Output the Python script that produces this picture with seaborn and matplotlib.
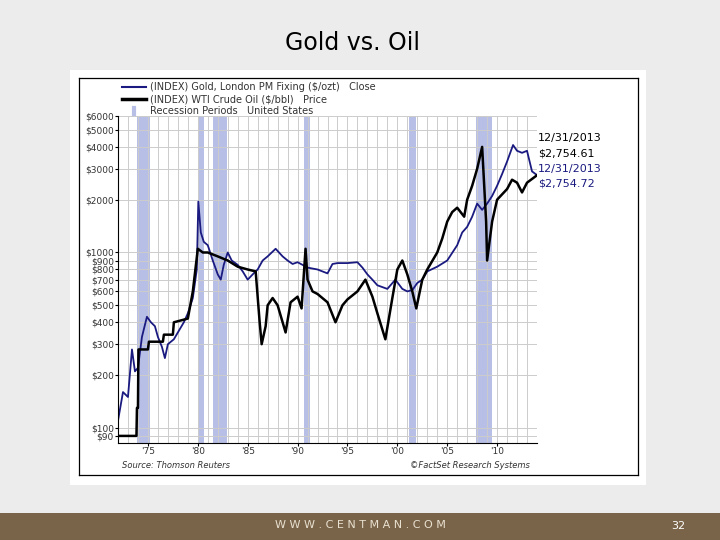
import numpy as np
import pandas as pd
import matplotlib
matplotlib.use('Agg')
import matplotlib.pyplot as plt
import matplotlib.ticker as mticker
import seaborn as sns

# Gold, London PM fixing (rebased)
gold_t = [1972.0, 1972.5, 1973.0, 1973.4, 1973.7, 1974.0, 1974.4, 1974.9, 1975.3, 1975.7,
          1976.0, 1976.4, 1976.7, 1977.0, 1977.6, 1978.0, 1978.6, 1979.0, 1979.5, 1979.9,
          1980.05, 1980.3, 1980.6, 1981.0, 1981.5, 1982.0, 1982.3, 1982.6, 1983.0, 1983.4,
          1984.0, 1984.5, 1985.0, 1985.5, 1986.0, 1986.5, 1987.0, 1987.8, 1988.5, 1989.0,
          1989.5, 1990.0, 1990.5, 1991.0, 1992.0, 1993.0, 1993.5, 1994.0, 1995.0, 1996.0,
          1996.5, 1997.0, 1997.5, 1998.0, 1999.0, 1999.8, 2000.5, 2001.0, 2001.5, 2002.0,
          2002.5, 2003.0, 2004.0, 2005.0, 2006.0, 2006.5, 2007.0, 2007.5, 2008.0, 2008.5,
          2009.0, 2009.5, 2010.0, 2010.5, 2011.0, 2011.6, 2012.0, 2012.5, 2013.0, 2013.5, 2013.99]
gold_v = [110, 160, 150, 280, 210, 220, 330, 430, 400, 380,
          330, 290, 250, 300, 320, 350, 400, 450, 550, 800,
          1950, 1300, 1150, 1100, 900, 750, 700, 850, 1000, 900,
          850, 780, 700, 750, 800, 900, 950, 1050, 950, 900,
          860, 880, 850, 820, 800, 760, 860, 870, 870, 880,
          820, 750, 700, 650, 620, 700, 620, 600, 610, 670,
          700, 780, 830, 900, 1100, 1300, 1400, 1600, 1900, 1750,
          1900, 2100, 2400, 2800, 3300, 4100, 3800, 3700, 3800, 2900, 2764]

# WTI crude oil (rebased); early years were posted prices, hence the steps
oil_t = [1972.0, 1973.85, 1973.9, 1974.0, 1974.05, 1975.0, 1975.1, 1976.5, 1976.6, 1977.5,
         1977.6, 1979.0, 1979.5, 1980.0, 1980.5, 1981.0, 1982.0, 1983.0, 1984.0, 1985.0,
         1985.8, 1986.2, 1986.4, 1986.8, 1987.0, 1987.5, 1988.0, 1988.8, 1989.3, 1990.0,
         1990.4, 1990.8, 1991.0, 1991.5, 1992.0, 1993.0, 1993.8, 1994.5, 1995.0, 1996.0,
         1996.8, 1997.5, 1998.0, 1998.8, 1999.5, 2000.0, 2000.5, 2001.0, 2001.5, 2001.9,
         2002.5, 2003.0, 2004.0, 2004.5, 2005.0, 2005.5, 2006.0, 2006.7, 2007.0, 2007.5,
         2008.0, 2008.5, 2008.9, 2009.0, 2009.5, 2010.0, 2011.0, 2011.5, 2012.0, 2012.5,
         2013.0, 2013.99]
oil_v = [90, 90, 130, 130, 280, 280, 310, 310, 340, 340,
         400, 420, 600, 1050, 1000, 1000, 950, 900, 830, 800,
         780, 400, 300, 380, 500, 550, 500, 350, 520, 560,
         480, 1050, 700, 600, 580, 520, 400, 500, 540, 600,
         700, 560, 450, 320, 550, 800, 900, 750, 600, 480,
         700, 800, 1000, 1200, 1500, 1700, 1800, 1600, 2000, 2400,
         3000, 4000, 1500, 900, 1500, 2000, 2300, 2600, 2500, 2200,
         2500, 2754]

recessions = [(1973.9, 1975.2), (1980.0, 1980.6), (1981.5, 1982.9),
              (1990.6, 1991.2), (2001.2, 2001.9), (2007.9, 2009.5)]

y_ticks = [90, 100, 200, 300, 400, 500, 600, 700, 800, 900, 1000, 2000, 3000, 4000, 5000, 6000]
x_ticks = [1975, 1980, 1985, 1990, 1995, 2000, 2005, 2010]
x_labels = ["'75", "'80", "'85", "'90", "'95", "'00", "'05", "'10"]

gold = pd.DataFrame({'t': gold_t, 'v': gold_v})
oil = pd.DataFrame({'t': oil_t, 'v': oil_v})

fig = plt.figure(figsize=(7.2, 5.4), dpi=100)
fig.patch.set_facecolor('#ececec')

# white picture area with a thin black frame
pad = fig.add_axes([70/720, 1-485/540, 576/720, 415/540])
pad.set_facecolor('white')
pad.set_xticks([]); pad.set_yticks([])
for s in pad.spines.values():
    s.set_visible(False)
frame = fig.add_axes([79/720, 1-475/540, 559/720, 397/540])
frame.set_facecolor('white')
frame.set_xticks([]); frame.set_yticks([])
for s in frame.spines.values():
    s.set_linewidth(0.9)

ax = fig.add_axes([118/720, 1-443/540, 419/720, 327/540])
ax.set_yscale('log')
ax.set_xlim(1972.0, 2014.0)
ax.set_ylim(82, 6000)
for a, b in recessions:
    ax.axvspan(a, b, color='#b8bfe6', lw=0, zorder=0)
for yr in range(1973, 2015):
    ax.axvline(yr, color='#cccccc', lw=0.7, zorder=0.5)
for y in y_ticks:
    ax.axhline(y, color='#cccccc', lw=0.7, zorder=0.5)

sns.lineplot(data=oil, x='t', y='v', ax=ax, color='black', lw=1.8, zorder=3)
sns.lineplot(data=gold, x='t', y='v', ax=ax, color='#1a1a80', lw=1.3, zorder=2)

ax.yaxis.set_major_locator(mticker.FixedLocator(y_ticks))
ax.yaxis.set_minor_locator(mticker.NullLocator())
ax.set_yticklabels(['$%d' % y for y in y_ticks], fontsize=6.5, color='#333333')
ax.set_xticks(x_ticks)
ax.set_xticklabels(x_labels, fontsize=6.5, color='#333333')
ax.set_xlabel(''); ax.set_ylabel('')
ax.tick_params(length=2, pad=1)
ax.spines['top'].set_visible(False)
ax.spines['right'].set_visible(False)

# legend-like header
fig.text(150/720, 1-87/540, '(INDEX) Gold, London PM Fixing ($/ozt)   Close', fontsize=7, color='#333333', va='center')
fig.text(150/720, 1-99/540, '(INDEX) WTI Crude Oil ($/bbl)   Price', fontsize=7, color='#333333', va='center')
fig.text(150/720, 1-111/540, 'Recession Periods   United States', fontsize=7, color='#333333', va='center')
fig.add_artist(plt.Line2D([122/720, 146/720], [1-87/540]*2, color='#1a1a80', lw=1.5))
fig.add_artist(plt.Line2D([122/720, 146/720], [1-99/540]*2, color='black', lw=2.5))
fig.add_artist(plt.Line2D([134/720, 134/720], [1-108/540, 1-114/540], color='#b8bfe6', lw=3))

# end-value labels
fig.text(538/720, 1-138/540, '12/31/2013', fontsize=8, color='black', va='center')
fig.text(538/720, 1-153/540, '$2,754.61', fontsize=8, color='black', va='center')
fig.text(538/720, 1-169/540, '12/31/2013', fontsize=8, color='#1a1a80', va='center')
fig.text(538/720, 1-184/540, '$2,754.72', fontsize=8, color='#1a1a80', va='center')

fig.text(122/720, 1-466/540, 'Source: Thomson Reuters', fontsize=6, style='italic', color='#333333', va='center')
fig.text(530/720, 1-466/540, '©FactSet Research Systems', fontsize=6, style='italic', color='#333333', va='center', ha='right')

fig.text(0.49, 1-43/540, 'Gold vs. Oil', fontsize=17, ha='center', va='center', color='black')

# footer band
band = fig.add_axes([0, 0, 1, 27/540])
band.set_facecolor('#7a6449')
band.set_xticks([]); band.set_yticks([])
for s in band.spines.values():
    s.set_visible(False)
fig.text(360/720, 1-525/540, 'W W W . C E N T M A N . C O M', fontsize=8, color='#e8e0d0', ha='center', va='center')
fig.text(678/720, 1-526/540, '32', fontsize=8, color='white', ha='center', va='center')

fig.savefig('out.png', dpi=100)
